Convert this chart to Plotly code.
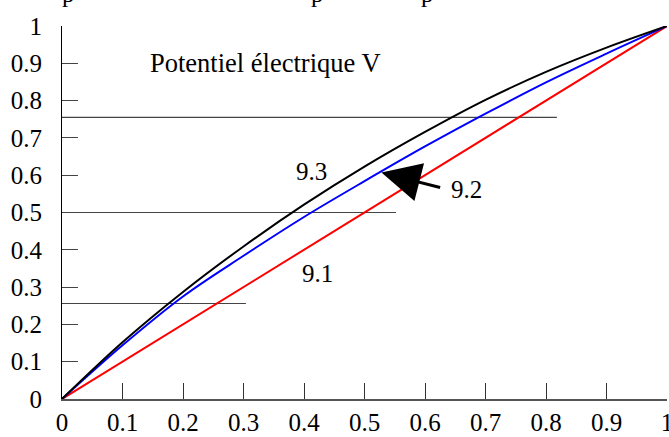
import plotly.graph_objects as go

# ---- data ----
x_vals = [0, 0.1, 0.2, 0.3, 0.4, 0.5, 0.6, 0.7, 0.8, 0.9, 1.0]
curve_91 = [0, 0.1, 0.2, 0.3, 0.4, 0.5, 0.6, 0.7, 0.8, 0.9, 1.0]          # red
curve_92 = [0, 0.144, 0.275, 0.384, 0.488, 0.584, 0.677, 0.765, 0.849, 0.926, 1.0]  # blue
curve_93 = [0, 0.152, 0.287, 0.409, 0.521, 0.623, 0.716, 0.802, 0.877, 0.942, 1.0]  # black

level_y = [0.256, 0.5, 0.755]
level_xend = [0.304, 0.552, 0.818]

tick_vals = [0, 0.1, 0.2, 0.3, 0.4, 0.5, 0.6, 0.7, 0.8, 0.9, 1]
tick_text = ["0", "0.1", "0.2", "0.3", "0.4", "0.5", "0.6", "0.7", "0.8", "0.9", "1"]

FONT = "'Liberation Serif', 'Times New Roman', serif"
FS = 25

fig = go.Figure()

for yv, xe in zip(level_y, level_xend):
    fig.add_trace(go.Scatter(x=[0, xe], y=[yv, yv], mode="lines",
                             line=dict(color="#444444", width=1.2),
                             showlegend=False, hoverinfo="skip"))

fig.add_trace(go.Scatter(x=x_vals, y=curve_91, mode="lines",
                         line=dict(color="#ff0000", width=2), showlegend=False))
fig.add_trace(go.Scatter(x=x_vals, y=curve_92, mode="lines",
                         line=dict(color="#0000ff", width=2, shape="spline"), showlegend=False))
fig.add_trace(go.Scatter(x=x_vals, y=curve_93, mode="lines",
                         line=dict(color="#000000", width=2, shape="spline"), showlegend=False))

annotations = [
    dict(x=0.336, y=0.9, text="Potentiel électrique V", showarrow=False, fs=26.5),
    dict(x=0.4126, y=0.611, text="9.3", showarrow=False),
    dict(x=0.4215, y=0.337, text="9.1", showarrow=False),
    dict(x=0.668, y=0.562, text="9.2", showarrow=False),
    dict(x=0.528, y=0.607, ax=0.6275, ay=0.566, axref="x", ayref="y",
         text="", showarrow=True, arrowhead=2, arrowsize=2.6, arrowwidth=3,
         arrowcolor="#000000", standoff=0),
]
for px in [-0.003, 0.422, 0.604]:
    annotations.append(dict(x=px, y=1.045, xref="paper", yref="paper",
                            text="p", showarrow=False, yanchor="bottom"))
for a in annotations:
    a.setdefault("xref", "x")
    a.setdefault("yref", "y")
    a["font"] = dict(family=FONT, size=a.pop("fs", FS), color="#000000")

fig.update_layout(
    width=669, height=437,
    margin=dict(l=62, r=2, t=26, b=38, autoexpand=False),
    paper_bgcolor="white", plot_bgcolor="white",
    font=dict(family=FONT, size=FS, color="#000000"),
    annotations=annotations,
    xaxis=dict(range=[0, 1], tickvals=tick_vals, ticktext=tick_text,
               ticks="inside", ticklen=16, tickwidth=1.3, tickcolor="#333333",
               showline=True, linecolor="#555555", linewidth=2,
               showgrid=False, zeroline=False, ticklabelstandoff=0,
               automargin=False, ticklabeloverflow="allow",
               tickfont=dict(family=FONT, size=FS, color="#000000")),
    yaxis=dict(range=[0, 1], tickvals=tick_vals, ticktext=tick_text,
               ticks="inside", ticklen=16, tickwidth=1.3, tickcolor="#444444",
               showline=True, linecolor="#000000", linewidth=1,
               showgrid=False, zeroline=False, ticklabelstandoff=14,
               automargin=False, ticklabeloverflow="allow",
               tickfont=dict(family=FONT, size=FS, color="#000000")),
)

fig.write_html("out.html", config={"displayModeBar": False},
               post_script="document.body.style.margin='0';document.body.style.overflow='hidden';")
